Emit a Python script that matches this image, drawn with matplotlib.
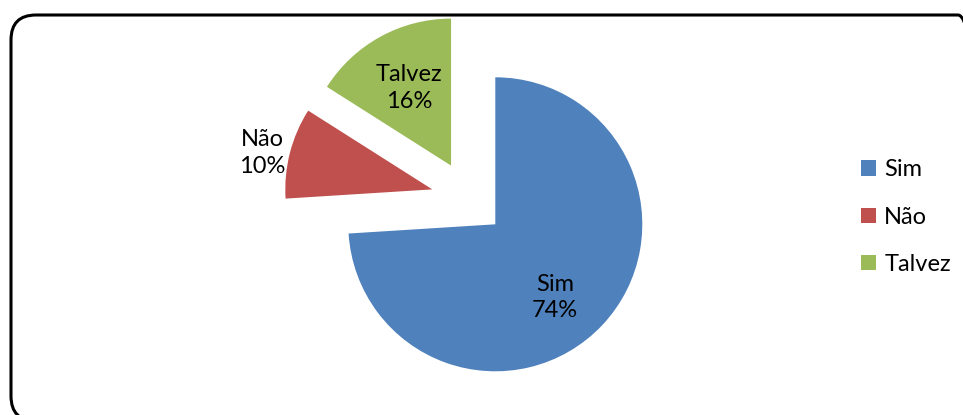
import numpy as np
import matplotlib
matplotlib.use('Agg')
import matplotlib.pyplot as plt
from matplotlib.patches import FancyBboxPatch, Patch

plt.rcParams['font.family'] = ['Lato', 'DejaVu Sans']

# data
labels = ['Sim', 'Não', 'Talvez']
values = [74, 10, 16]
colors = ['#4F81BD', '#C0504D', '#9BBB59']

# how far the slices are pulled out (fraction of radius) and in which direction
explode_dist = [0, 0.49, 0.50]
explode_ang = [0, 151, 127]
# label centres, in radius units
label_pos = [(0.406, -0.498), (-1.587, 0.485), (-0.587, 0.927)]

fig = plt.figure(figsize=(9.63, 4.15), dpi=100)

# rounded frame, in inches (runs off the right and bottom edge like the original)
frame = FancyBboxPatch((0.11, 4.15 - 4.21), 9.83 - 0.11, 4.21 - 0.15,
                       boxstyle='round,pad=0,rounding_size=0.25',
                       transform=fig.dpi_scale_trans, fill=False,
                       edgecolor='black', linewidth=2.2)
fig.patches.append(frame)

ax = fig.add_axes([0, 0, 1, 1])
wedges, _ = ax.pie(values, colors=colors, startangle=90, counterclock=False,
                   radius=1.0, wedgeprops=dict(linewidth=0))

for w, d, a in zip(wedges, explode_dist, explode_ang):
    if d:
        w.set_center((d*np.cos(np.radians(a)), d*np.sin(np.radians(a))))

for lab, v, (x, y) in zip(labels, values, label_pos):
    ax.text(x, y, '{}\n{}%'.format(lab, v), ha='center', va='center',
            fontsize=17, linespacing=1.32, color='black')

ax.set_xlim(-495.3/147, (963 - 495.3)/147)
ax.set_ylim(-(415 - 224.3)/147, 224.3/147)
ax.set_aspect('auto')
ax.axis('off')

handles = [Patch(facecolor=c, edgecolor='none') for c in colors]
fig.legend(handles, labels, loc='center left', bbox_to_anchor=(861/963, 0.477),
           frameon=False, fontsize=17, handlelength=0.63, handleheight=0.63,
           handletextpad=0.35, labelspacing=1.12, borderpad=0, borderaxespad=0)

plt.savefig('out.png', dpi=100)
